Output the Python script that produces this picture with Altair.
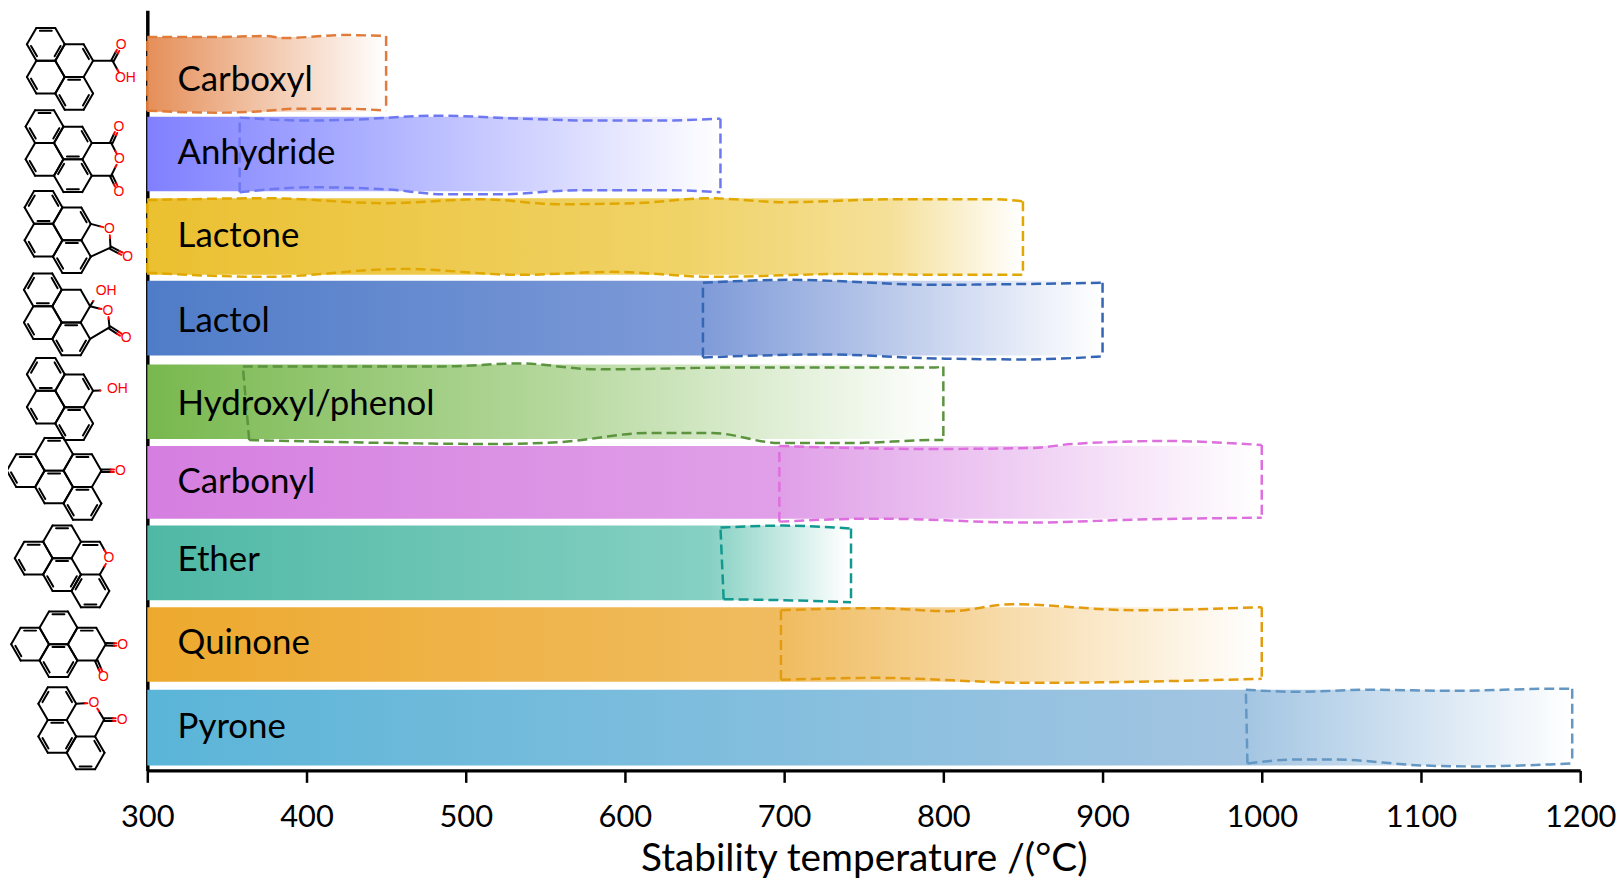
import altair as alt
import pandas as pd
import math

FONT = "Lato"
CATEGORIES = ["Carboxyl", "Anhydride", "Lactone", "Lactol", "Hydroxyl/phenol",
              "Carbonyl", "Ether", "Quinone", "Pyrone"]
BAR_END = [450, 660, 850, 900, 800, 1000, 740, 1000, 1195]
BAR_TOP = [35, 115, 197, 280, 364, 446, 526, 608, 691]
BAR_BOTTOM = [110, 190, 274, 355, 439, 519, 601, 683, 767]
LABEL_ROW = [78, 152, 235, 320, 404, 482, 561, 644, 728]
LABEL_T = 319

GRAD_COLORS = [
    ["#E58F59", "#FFFFFF"],
    ["#8080FF", "#AEB2FF", "#D8D9FF", "#FFFFFF"],
    ["#EBC030", "#F0D368", "#F5E09A", "#FFFFFF"],
    ["#4F7CC8", "#7E9AD8", "#FFFFFF"],
    ["#78B84E", "#B3D79A", "#FFFFFF"],
    ["#D57FE0", "#E0A0E8", "#FFFFFF"],
    ["#4FB8A5", "#85D0C2", "#FFFFFF"],
    ["#EDA92E", "#F0BC60", "#FFFFFF"],
    ["#5AB5D8", "#A3C5E2", "#FFFFFF"],
]
GRAD_STOPS = [
    [0, 1],
    [0, 0.4, 0.72, 1],
    [0, 0.62, 0.85, 1],
    [0, 0.58, 1],
    [0, 0.5, 1],
    [0, 0.57, 1],
    [0, 0.8, 1],
    [0, 0.57, 1],
    [0, 0.77, 1],
]
OUTLINE_COLORS = ["#E07B39", "#6E78F0", "#E0A800", "#3566B5", "#5B933F",
                  "#DE6FDE", "#12998F", "#E39C10", "#6497C4"]

OUTLINE_T = [
    [300, 343, 374, 386, 424, 450, 450, 424, 395, 367, 343, 300, 300],
    [358, 402, 429, 481, 534, 582, 618, 660, 660, 630, 570, 522, 486, 450, 402, 358, 358],
    [300, 374, 450, 510, 558, 606, 653, 700, 770, 830, 850, 850, 795, 741, 655, 592, 534, 461, 375, 300, 300],
    [649, 703, 795, 860, 900, 900, 850, 795, 725, 649, 649],
    [360, 486, 534, 582, 678, 795, 800, 800, 795, 741, 697, 655, 614, 560, 518, 454, 364, 360],
    [697, 790, 855, 881, 939, 1000, 1000, 920, 855, 757, 697, 697],
    [660, 700, 742, 742, 700, 662, 660],
    [698, 757, 804, 843, 920, 1000, 1000, 855, 757, 698, 698],
    [990, 1022, 1067, 1122, 1181, 1195, 1195, 1181, 1134, 1100, 1045, 1022, 991, 990],
]
OUTLINE_Y = [
    [35, 35, 34, 36, 33, 34, 109, 107, 107, 110, 111, 109, 35],
    [116, 119, 118, 114, 117, 119, 119, 117, 191, 189, 189, 193, 193, 188, 186, 191, 116],
    [199, 197, 202, 198, 203, 202, 197, 201, 198, 198, 200, 274, 274, 273, 276, 271, 274, 268, 276, 272, 199],
    [282, 279, 284, 283, 282, 356, 359, 358, 354, 357, 282],
    [366, 366, 363, 369, 367, 367, 366, 440, 440, 443, 443, 433, 433, 442, 444, 443, 440, 366],
    [446, 449, 448, 444, 441, 445, 518, 520, 523, 519, 522, 446],
    [528, 526, 529, 603, 601, 600, 528],
    [611, 609, 612, 605, 611, 608, 680, 684, 679, 681, 611],
    [691, 693, 691, 692, 690, 690, 765, 766, 768, 767, 761, 761, 765, 691],
]

TICKS = [300, 400, 500, 600, 700, 800, 900, 1000, 1100, 1200]
AXIS_TITLE = "Stability temperature /(°C)"

# Molecule sketches, in picture pixels, mapped to the chart's scales below
BOND = 19.0
M_RINGS = [
    [(46, 42.3), (74.5, 58.8), (46, 75.2), (74.5, 91.7)],
    [(44.7, 125), (73.2, 141.5), (44.7, 157.9), (73.2, 174.4)],
    [(43.7, 206.3), (72.2, 222.8), (43.7, 239.2), (72.2, 255.7)],
    [(43, 289), (71.5, 305.5), (43, 321.9), (71.5, 338.4)],
    [(46, 374), (74.5, 390.5), (46, 406.9), (74.5, 423.4)],
    [(54.3, 454.3), (25.8, 470.8), (54.3, 487.2), (82.8, 470.8), (82.8, 503.7)],
    [(62.3, 542.3), (33.8, 558.8), (62.3, 575.2), (90.8, 591.7)],
    [(58.7, 628.7), (30.2, 645.2), (58.7, 661.6), (87.2, 645.2)],
    [(57.5, 705), (57.5, 737.9), (86, 754.4)],
]
M_DOUBLES = [
    [(0, 0), (0, 2), (0, 4), (1, 1), (2, 4), (3, 0), (3, 2), (3, 4)],
    [(0, 0), (0, 2), (0, 4), (1, 1), (1, 3), (2, 4), (3, 1), (3, 3), (3, 5)],
    [(0, 1), (0, 3), (0, 5), (1, 1), (2, 4), (3, 0), (3, 2), (3, 4)],
    [(0, 1), (0, 3), (0, 5), (2, 4), (3, 0), (3, 2), (3, 4)],
    [(0, 1), (0, 3), (0, 5), (1, 1), (2, 4), (3, 0), (3, 2), (3, 4)],
    [(0, 0), (1, 0), (1, 4), (2, 0), (2, 4), (3, 0), (4, 0), (4, 2), (4, 4)],
    [(0, 0), (1, 0), (1, 4), (2, 0), (2, 2), (2, 4), (3, 1), (3, 3), (3, 5)],
    [(0, 0), (1, 0), (1, 4), (2, 0), (2, 2), (2, 4), (3, 0)],
    [(0, 1), (0, 5), (1, 0), (1, 2), (1, 4), (2, 1), (2, 3)],
]
# black bonds: x1, y1, x2, y2
M_BLACK = [
    (93.5, 58.8, 113, 58.8),
    (92.2, 141.5, 111.7, 141.5), (92.2, 174.4, 111.7, 174.4),
    (91.2, 255.7, 111, 246.7),
    (90.5, 338.4, 110, 326.7),
    (81.3, 542.3, 100.3, 542.3), (83.5, 545.4, 98, 545.4),
    (104.5, 721, 95.5, 737.9),
]
# bonds from carbon to a hetero atom: black half, red half
M_HETERO = [
    (113, 58.8, 122.5, 76),
    (111.7, 141.5, 120, 157.5), (111.7, 174.4, 120, 157.5),
    (91.2, 222.8, 110, 227.7), (111, 246.7, 110, 227.7),
    (90.5, 305.5, 97, 295), (90.5, 305.5, 108.3, 310), (110, 326.7, 108.3, 310),
    (93.5, 390.5, 107.5, 390),
    (81.3, 542.3, 90.5, 542.3),
    (100.3, 542.3, 109.5, 558.8), (100.3, 575.2, 109.5, 558.8),
    (76.5, 705, 94.3, 704.3), (104.5, 721, 94.3, 704.3),
]
# carbonyl bonds, drawn double
M_CARBONYL = [
    (113, 58.8, 121.7, 42.7), (111.7, 141.5, 119.3, 125), (111.7, 174.4, 119.5, 190.5),
    (111, 246.7, 128.3, 255.7), (110, 326.7, 126.7, 337.7), (101.8, 470.8, 121, 470.8),
    (106.2, 645.2, 123.3, 645.7), (96.7, 661.6, 104, 678.3), (104.5, 721, 122.7, 721),
]
M_ATOM_TEXT = ["O", "OH", "O", "O", "O", "O", "O", "O", "OH", "O", "OH", "O", "O", "O", "O", "O", "O"]
M_ATOM_X = [121.7, 126, 119.5, 120, 119.5, 110, 128.3, 108.3, 106.7, 126.7, 118, 121, 109.5, 123.3, 104, 94.3, 122.7]
M_ATOM_Y = [42.7, 76, 125, 157.5, 190.5, 227.7, 255.7, 310, 290.7, 337.7, 389, 470.8, 558.8, 645.7, 678.3, 704.3, 721]


def px_to_t(x):
    return 300 + (x - 148) / 1.6


H = BOND * math.sqrt(3) / 2
segments = []


def add(x1, y1, x2, y2, kind):
    segments.append({"x": px_to_t(x1), "x2": px_to_t(x2), "y": y1, "y2": y2, "kind": kind})


def ring_vertices(c):
    cx, cy = c
    return [(cx - BOND / 2, cy - H), (cx + BOND / 2, cy - H), (cx + BOND, cy),
            (cx + BOND / 2, cy + H), (cx - BOND / 2, cy + H), (cx - BOND, cy)]


for rings, doubles in zip(M_RINGS, M_DOUBLES):
    for c in rings:
        vs = ring_vertices(c)
        for k in range(6):
            a, b = vs[k], vs[(k + 1) % 6]
            add(a[0], a[1], b[0], b[1], "black")
    for r, k in doubles:
        c = rings[r]
        vs = ring_vertices(c)
        a, b = vs[k], vs[(k + 1) % 6]
        p = [(v[0] + 0.17 * (c[0] - v[0]), v[1] + 0.17 * (c[1] - v[1])) for v in (a, b)]
        dx, dy = p[1][0] - p[0][0], p[1][1] - p[0][1]
        add(p[0][0] + 0.12 * dx, p[0][1] + 0.12 * dy, p[1][0] - 0.12 * dx, p[1][1] - 0.12 * dy, "black")

for s in M_BLACK:
    add(*s, "black")


def hetero(x1, y1, x2, y2):
    ln = math.hypot(x2 - x1, y2 - y1)
    f = max(0.0, 1 - 6.5 / ln)
    mx, my = x1 + (x2 - x1) * 0.5, y1 + (y2 - y1) * 0.5
    ex, ey = x1 + (x2 - x1) * f, y1 + (y2 - y1) * f
    add(x1, y1, mx, my, "black")
    add(mx, my, ex, ey, "red")


for s in M_HETERO:
    if s == (81.3, 542.3, 90.5, 542.3):
        continue
    hetero(*s)
for x1, y1, x2, y2 in M_CARBONYL:
    ln = math.hypot(x2 - x1, y2 - y1)
    nx, ny = -(y2 - y1) / ln * 1.3, (x2 - x1) / ln * 1.3
    hetero(x1 + nx, y1 + ny, x2 + nx, y2 + ny)
    hetero(x1 - nx, y1 - ny, x2 - nx, y2 - ny)

x_scale = alt.Scale(domain=[300, 1200], nice=False, zero=False)
y_scale = alt.Scale(domain=[772, 8], nice=False, zero=False)
X_AXIS = alt.Axis(values=TICKS, title=AXIS_TITLE, format="d", grid=False, tickSize=12, tickWidth=2.5,
                  tickColor="black", domainColor="black", domainWidth=3.5, labelFont=FONT, labelFontSize=31,
                  labelColor="black", labelPadding=20, labelOverlap=False, labelFlush=False, titleFont=FONT,
                  titleFontSize=39, titleFontWeight="normal", titleColor="black", titlePadding=8)
Y_AXIS = alt.Axis(labels=False, ticks=False, title=None, grid=False, domainColor="black", domainWidth=3.5)

layers = []
for i, cat in enumerate(CATEGORIES):
    grad = alt.Gradient(
        gradient="linear", x1=0, x2=1, y1=0, y2=0,
        stops=[alt.GradientStop(color=c, offset=o) for c, o in zip(GRAD_COLORS[i], GRAD_STOPS[i])],
    )
    d = pd.DataFrame({"a": [300], "b": [BAR_END[i]], "t": [BAR_TOP[i]], "u": [BAR_BOTTOM[i]]})
    layers.append(alt.Chart(d).mark_rect(color=grad).encode(
        x=alt.X("a:Q", scale=x_scale, axis=X_AXIS), x2="b:Q",
        y=alt.Y("t:Q", scale=y_scale, axis=Y_AXIS), y2="u:Q"))

for i, cat in enumerate(CATEGORIES):
    ts, ys = OUTLINE_T[i], OUTLINE_Y[i]
    k = ts.index(max(ts))
    n = len(ts)
    top = pd.DataFrame({"T": ts[:k + 1], "Y": ys[:k + 1]})
    bottom = pd.DataFrame({"T": ts[k + 1:n - 1], "Y": ys[k + 1:n - 1]})
    sides = pd.DataFrame({"T": [ts[k], ts[k + 1], ts[n - 2], ts[0]],
                          "Y": [ys[k], ys[k + 1], ys[n - 2], ys[0]],
                          "side": ["r", "r", "l", "l"], "i": [0, 1, 0, 1]})
    style = dict(color=OUTLINE_COLORS[i], strokeWidth=2.5, strokeDash=[10, 5])
    for edge in (top, bottom):
        layers.append(alt.Chart(edge).mark_line(interpolate="monotone", **style).encode(
            x=alt.X("T:Q", scale=x_scale), y=alt.Y("Y:Q", scale=y_scale)))
    layers.append(alt.Chart(sides).mark_line(**style).encode(
        x=alt.X("T:Q", scale=x_scale), y=alt.Y("Y:Q", scale=y_scale), detail="side:N", order="i:Q"))

label_df = pd.DataFrame({"T": [LABEL_T] * len(CATEGORIES), "Y": LABEL_ROW, "label": CATEGORIES})
layers.append(alt.Chart(label_df).mark_text(
    font=FONT, fontSize=35, align="left", baseline="middle", color="black"
).encode(x=alt.X("T:Q", scale=x_scale), y=alt.Y("Y:Q", scale=y_scale), text="label:N"))

seg_df = pd.DataFrame(segments)
layers.append(alt.Chart(seg_df).mark_rule(strokeWidth=2, strokeCap="round").encode(
    x=alt.X("x:Q", scale=x_scale), x2="x2:Q",
    y=alt.Y("y:Q", scale=y_scale), y2="y2:Q",
    color=alt.Color("kind:N", scale=alt.Scale(domain=["black", "red"], range=["#000000", "#FF0000"]), legend=None)))

atom_df = pd.DataFrame({"T": [px_to_t(x) for x in M_ATOM_X], "Y": M_ATOM_Y, "label": M_ATOM_TEXT})
layers.append(alt.Chart(atom_df).mark_text(
    font="Liberation Sans", fontSize=14, align="center", baseline="middle", color="#FF0000"
).encode(x=alt.X("T:Q", scale=x_scale), y=alt.Y("Y:Q", scale=y_scale), text="label:N"))

chart = alt.layer(*layers).properties(
    width=1440, height=764, background="white",
    padding={"left": 140, "right": 36, "top": 0, "bottom": 111},
    autosize=alt.AutoSizeParams(type="none"),
).configure_view(stroke=None)

chart.save("out.html", embed_options={"renderer": "svg", "actions": False})
